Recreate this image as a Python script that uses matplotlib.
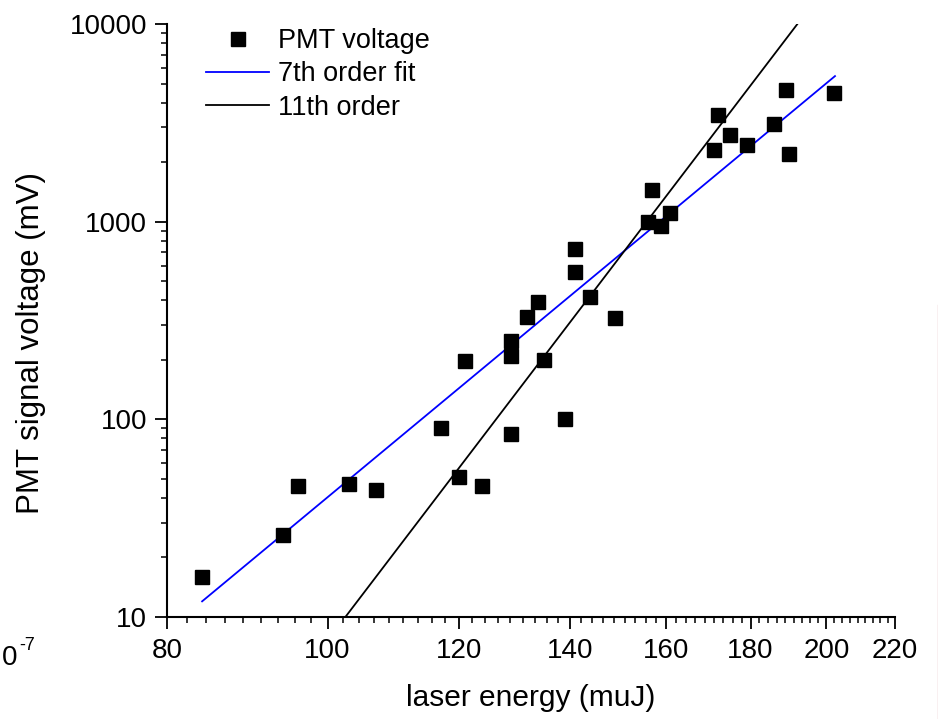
import matplotlib
matplotlib.use("Agg")
import matplotlib.pyplot as plt
from matplotlib.ticker import FixedLocator, NullFormatter, LogLocator
from matplotlib.lines import Line2D

plt.rcParams['font.family'] = ['Liberation Sans', 'DejaVu Sans']

# ---- data ----
energy = [84, 94, 96, 103, 107, 117, 120, 121, 124, 129, 129, 129, 132, 134, 135,
          139, 141, 141, 144, 149, 156, 157, 159, 161, 171, 172, 175, 179, 186,
          189, 190, 202]
voltage = [16, 26, 46, 47, 44, 90, 51, 197, 46, 249, 209, 84, 329, 393, 200,
           100, 728, 556, 415, 325, 994, 1440, 949, 1100, 2300, 3460, 2750, 2430,
           3110, 4640, 2190, 4480]

# power-law fits (straight lines on log-log axes), endpoints
fit7_energy = [84, 202.4]
fit7_voltage = [12.0, 5450]
fit11_energy = [84, 202]
fit11_voltage = [1.12, 17380]

x_major = [80, 100, 120, 140, 160, 180, 200, 220]
x_labels = ['80', '100', '120', '140', '160', '180', '200', '220']
y_major = [10, 100, 1000, 10000]
y_labels = ['10', '100', '1000', '10000']

W, H = 938, 719
fig = plt.figure(figsize=(W / 100, H / 100), dpi=100)
ax = fig.add_axes([167 / W, 1 - 617 / H, (895 - 167) / W, (617 - 24) / H])

ax.set_xscale('log')
ax.set_yscale('log')

ax.plot(energy, voltage, linestyle='none', marker='s', markersize=9.8,
        color='black', label='PMT voltage', zorder=3)
ax.plot(fit7_energy, fit7_voltage, color='#0000ff', lw=1.3, label='7th order fit')
ax.plot(fit11_energy, fit11_voltage, color='black', lw=1.3, label='11th order')

ax.set_xlim(80, 220)
ax.set_ylim(10, 10000)

for s in ['top', 'right']:
    ax.spines[s].set_visible(False)
for s in ['left', 'bottom']:
    ax.spines[s].set_linewidth(1.5)

ax.xaxis.set_major_locator(FixedLocator(x_major))
ax.set_xticklabels(x_labels)
minor_x = [80 + k * 20 / 9 for k in range(0, 64) if k % 9 != 0 and 80 + k * 20 / 9 < 220]
ax.xaxis.set_minor_locator(FixedLocator(minor_x))
ax.xaxis.set_minor_formatter(NullFormatter())

ax.yaxis.set_major_locator(FixedLocator(y_major))
ax.set_yticklabels(y_labels)
ax.yaxis.set_minor_locator(LogLocator(base=10, subs=range(2, 10)))
ax.yaxis.set_minor_formatter(NullFormatter())

ax.tick_params(axis='both', which='major', direction='out', length=8.5, width=1.3,
               labelsize=20)
ax.tick_params(axis='both', which='minor', direction='out', length=4.5, width=1.1)
ax.tick_params(axis='x', which='major', pad=6.5)
ax.tick_params(axis='y', which='major', pad=5.8)

ax.set_xlabel('laser energy (muJ)', fontsize=21.5)
ax.set_ylabel('PMT signal voltage (mV)', fontsize=22.5)
ax.xaxis.set_label_coords(0.5, -0.113)
ax.yaxis.set_label_coords((31 - 167) / 728, (617 - 343) / 593)
ax.xaxis.label.set_va('top')
ax.yaxis.label.set_va('center')

leg = ax.legend(loc='upper left', bbox_to_anchor=((206 - 167) / 728, 0.993),
                frameon=False, fontsize=19.5, handlelength=2.33,
                handletextpad=0.32, labelspacing=0.27, borderpad=0,
                borderaxespad=0, numpoints=1)

# stray exponent label at lower left (its leading digit is off the page)
fig.text(2 / W, 1 - 665 / H, '0', fontsize=20, ha='left', va='baseline')
fig.text(19 / W, 1 - 650 / H, '-7', fontsize=13, ha='left', va='baseline')

# faint right-edge line
fig.add_artist(Line2D([937.5 / W, 937.5 / W], [0, 1 - 305 / H],
                      transform=fig.transFigure, color='#e3b3b8', lw=1))

fig.savefig('out.png', dpi=100)
